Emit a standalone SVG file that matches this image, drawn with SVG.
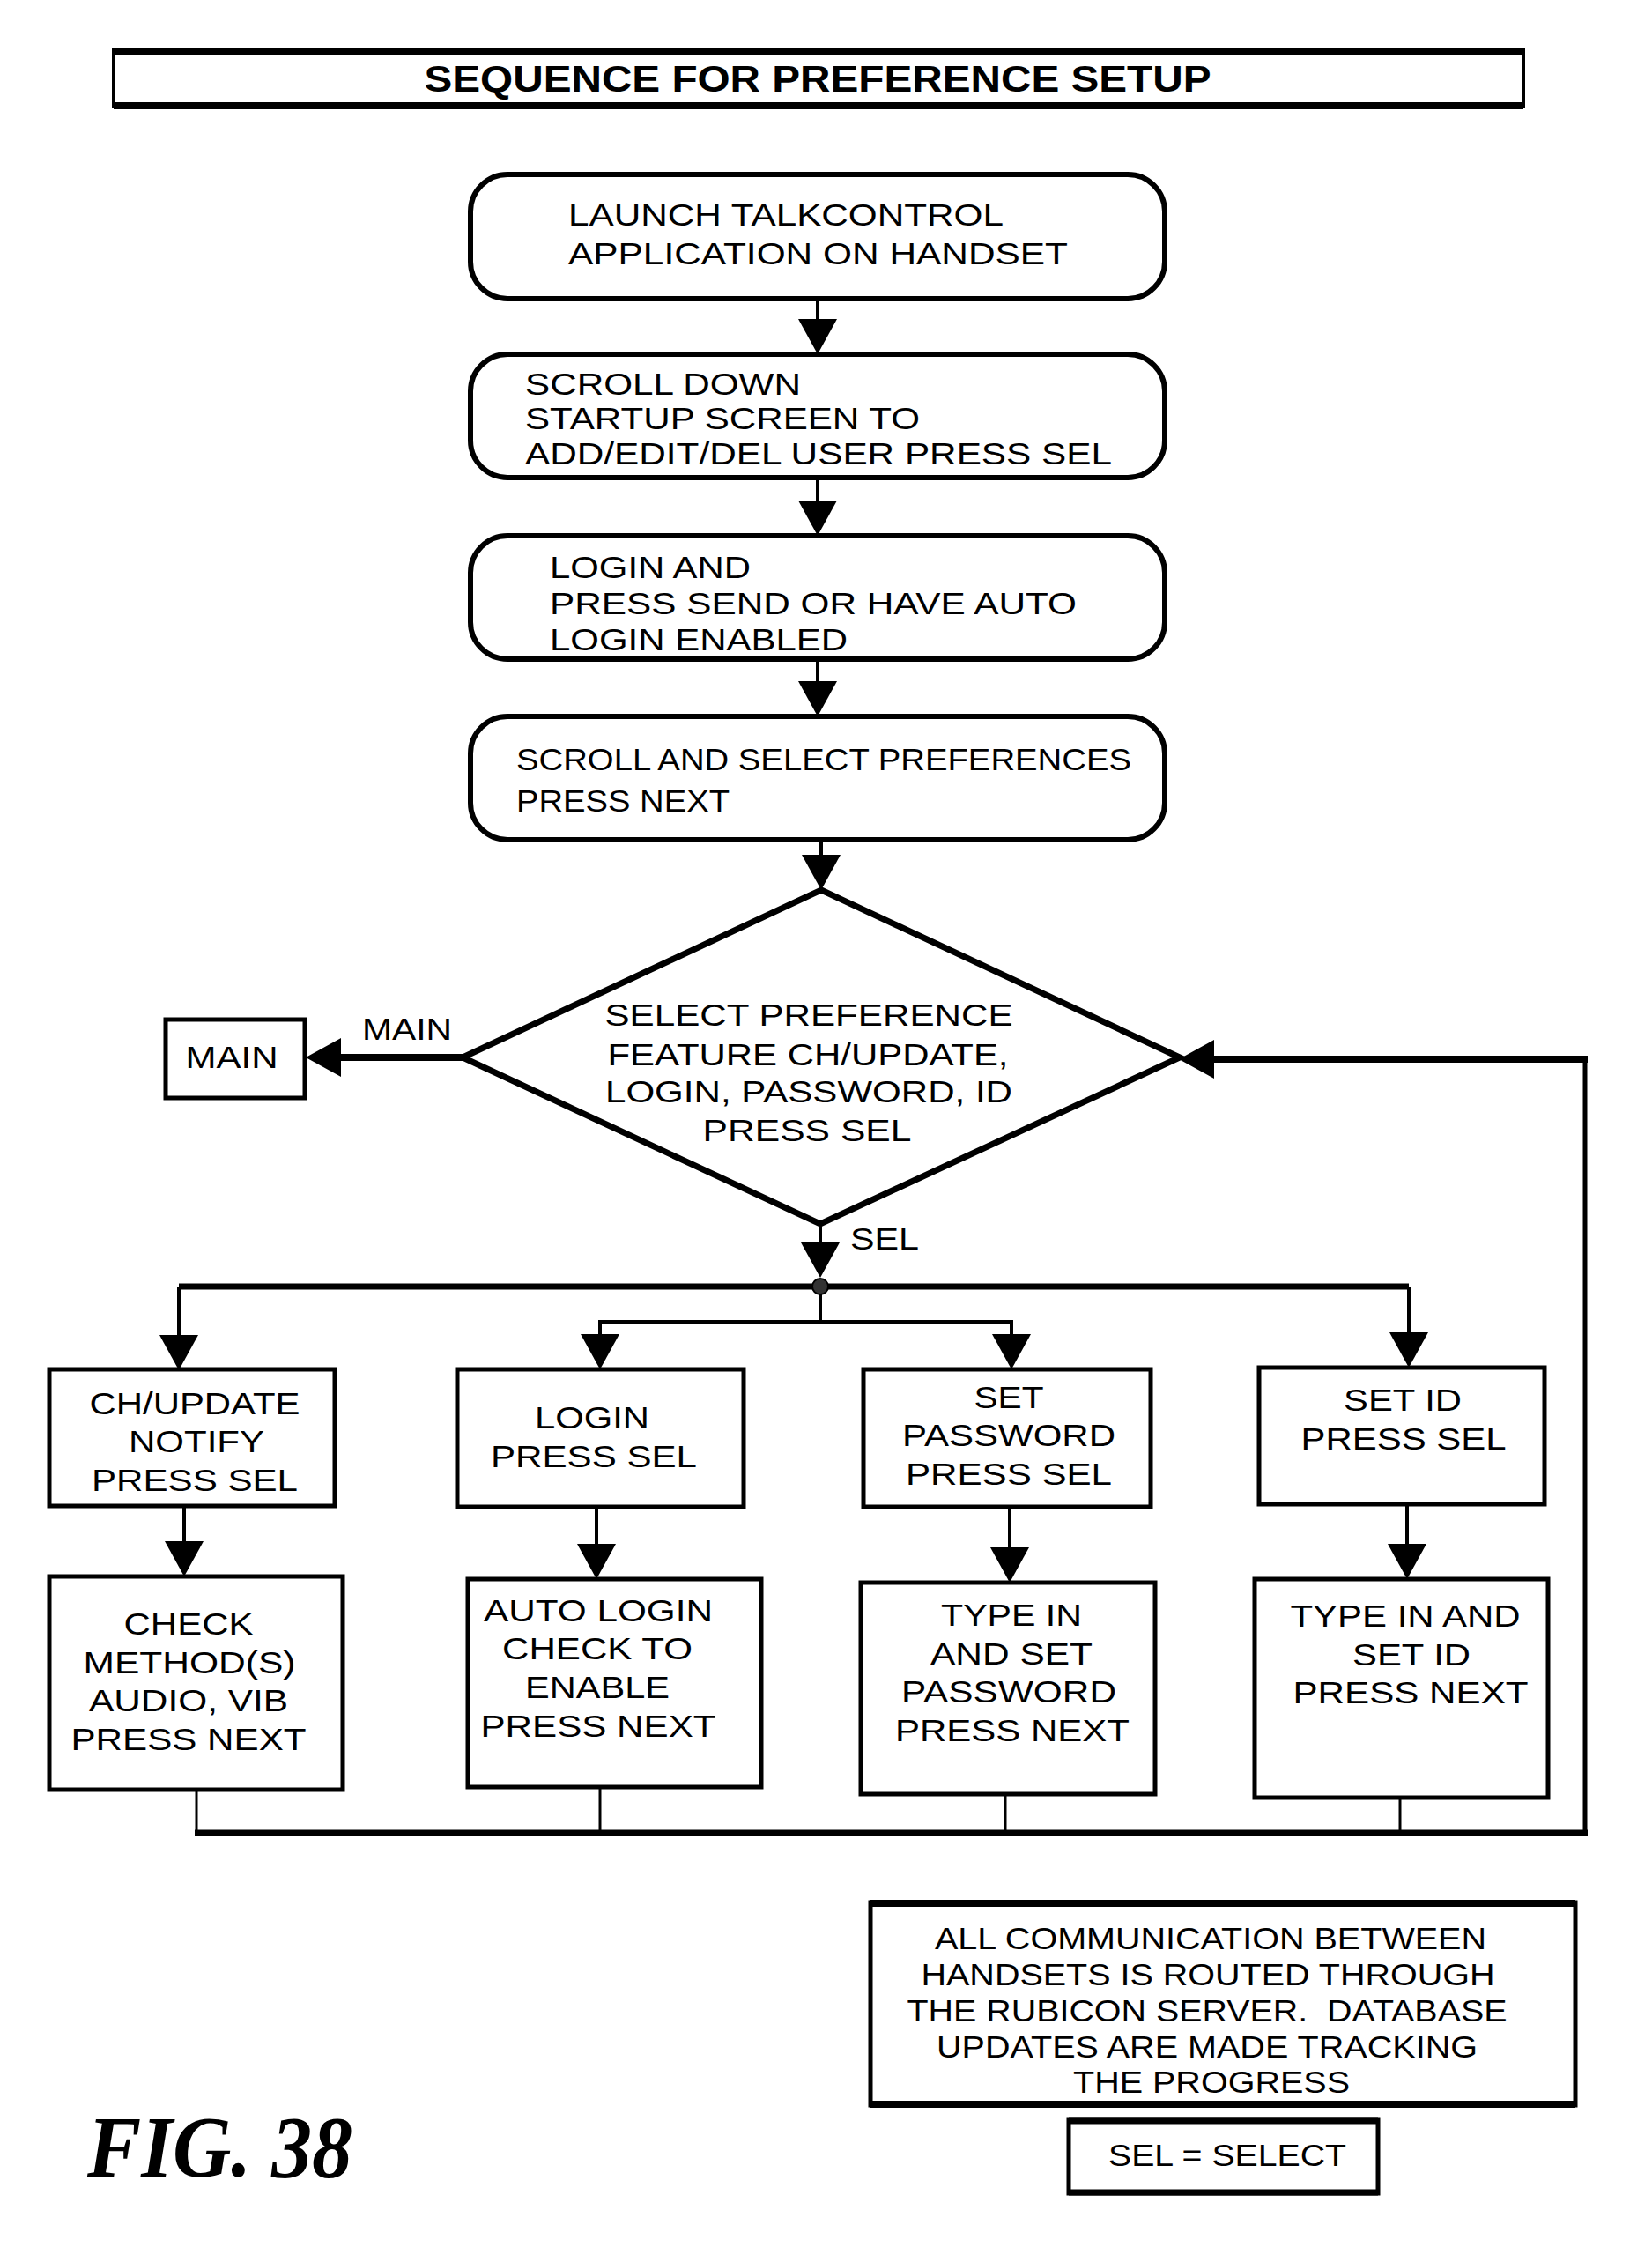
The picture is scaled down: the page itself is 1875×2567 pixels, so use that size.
<svg xmlns="http://www.w3.org/2000/svg" width="1875" height="2567" viewBox="0 0 1875 2567">
<style>
.t{font-family:"Liberation Sans",Arial,sans-serif;font-size:35px;fill:#000}
.m{text-anchor:middle}
.box{fill:#fff;stroke:#000;stroke-width:5}
.rbox{fill:#fff;stroke:#000;stroke-width:6}
.c{stroke:#000;stroke-width:4;fill:none}
.k{stroke:#000;stroke-width:8;fill:none}
</style>
<defs>
<marker id="ah" markerUnits="userSpaceOnUse" markerWidth="40" markerHeight="44" viewBox="0 0 40 44" refX="0" refY="22" orient="auto">
<path d="M0,0 L40,22 L0,44 z" fill="#000"/>
</marker>
</defs>
<rect width="1875" height="2567" fill="#fff"/>

<g id="title">
<rect x="129" y="57" width="1600" height="64" fill="#fff" stroke="#000" stroke-width="4"/>
<line x1="129" y1="58" x2="1729" y2="58" stroke="#000" stroke-width="8"/>
<line x1="129" y1="120" x2="1729" y2="120" stroke="#000" stroke-width="8"/>
<text x="928" y="104" class="m" style="font-family:'Liberation Sans',Arial,sans-serif;font-weight:bold;font-size:42px" textLength="893" lengthAdjust="spacingAndGlyphs">SEQUENCE FOR PREFERENCE SETUP</text>
</g>

<g id="connectors">
<line class="c" x1="928" y1="339" x2="928" y2="362" marker-end="url(#ah)"/>
<line class="c" x1="928" y1="542" x2="928" y2="568" marker-end="url(#ah)"/>
<line class="c" x1="928" y1="748" x2="928" y2="773" marker-end="url(#ah)"/>
<line class="c" x1="932" y1="953" x2="932" y2="970" marker-end="url(#ah)"/>
<line class="k" x1="525" y1="1200" x2="387" y2="1200" marker-end="url(#ah)"/>
<line x1="1799" y1="2080" x2="1799" y2="1200" stroke="#000" stroke-width="5"/>
<line class="k" x1="1802" y1="1202" x2="1378" y2="1202" marker-end="url(#ah)"/>
<line class="c" x1="931" y1="1389" x2="931" y2="1410" marker-end="url(#ah)"/>
<line x1="203" y1="1460" x2="1599" y2="1460" stroke="#000" stroke-width="7"/>
<line class="c" x1="203" y1="1460" x2="203" y2="1515" marker-end="url(#ah)"/>
<line class="c" x1="1599" y1="1460" x2="1599" y2="1512" marker-end="url(#ah)"/>
<line class="c" x1="931" y1="1460" x2="931" y2="1500"/>
<line class="c" x1="679" y1="1500" x2="1150" y2="1500"/>
<line class="c" x1="681" y1="1500" x2="681" y2="1514" marker-end="url(#ah)"/>
<line class="c" x1="1148" y1="1500" x2="1148" y2="1514" marker-end="url(#ah)"/>
<circle cx="931" cy="1460" r="9" fill="#333" stroke="#000" stroke-width="2"/>
<line class="c" x1="209" y1="1709" x2="209" y2="1749" marker-end="url(#ah)"/>
<line class="c" x1="677" y1="1710" x2="677" y2="1752" marker-end="url(#ah)"/>
<line class="c" x1="1146" y1="1710" x2="1146" y2="1756" marker-end="url(#ah)"/>
<line class="c" x1="1597" y1="1707" x2="1597" y2="1752" marker-end="url(#ah)"/>
<line x1="223" y1="2031" x2="223" y2="2080" stroke="#000" stroke-width="3"/>
<line x1="681" y1="2028" x2="681" y2="2080" stroke="#000" stroke-width="3"/>
<line x1="1141" y1="2036" x2="1141" y2="2080" stroke="#000" stroke-width="3"/>
<line x1="1589" y1="2040" x2="1589" y2="2080" stroke="#000" stroke-width="3"/>
<line x1="221" y1="2080" x2="1802" y2="2080" stroke="#000" stroke-width="7"/>
<text x="411" y="1180" class="t" textLength="102" lengthAdjust="spacingAndGlyphs">MAIN</text>
<text x="965" y="1418" class="t" textLength="78" lengthAdjust="spacingAndGlyphs">SEL</text>
</g>

<g id="launch">
<rect class="rbox" x="534" y="198" width="788" height="141" rx="42" ry="42"/>
<text x="645" y="256" class="t" textLength="494" lengthAdjust="spacingAndGlyphs">LAUNCH TALKCONTROL</text>
<text x="645" y="300" class="t" textLength="567" lengthAdjust="spacingAndGlyphs">APPLICATION ON HANDSET</text>
</g>

<g id="scroll-down">
<rect class="rbox" x="534" y="402" width="788" height="140" rx="42" ry="42"/>
<text x="596" y="448" class="t" textLength="313" lengthAdjust="spacingAndGlyphs">SCROLL DOWN</text>
<text x="596" y="487" class="t" textLength="448" lengthAdjust="spacingAndGlyphs">STARTUP SCREEN TO</text>
<text x="596" y="527" class="t" textLength="666" lengthAdjust="spacingAndGlyphs">ADD/EDIT/DEL USER PRESS SEL</text>
</g>

<g id="login">
<rect class="rbox" x="534" y="608" width="788" height="140" rx="42" ry="42"/>
<text x="624" y="656" class="t" textLength="228" lengthAdjust="spacingAndGlyphs">LOGIN AND</text>
<text x="624" y="697" class="t" textLength="598" lengthAdjust="spacingAndGlyphs">PRESS SEND OR HAVE AUTO</text>
<text x="624" y="738" class="t" textLength="338" lengthAdjust="spacingAndGlyphs">LOGIN ENABLED</text>
</g>

<g id="select-preferences">
<rect class="rbox" x="534" y="813" width="788" height="140" rx="42" ry="42"/>
<text x="586" y="874" class="t" textLength="698" lengthAdjust="spacingAndGlyphs">SCROLL AND SELECT PREFERENCES</text>
<text x="586" y="921" class="t" textLength="242" lengthAdjust="spacingAndGlyphs">PRESS NEXT</text>
</g>

<g id="decision">
<polygon points="932,1010 1339,1200 931,1389 525,1200" fill="#fff" stroke="#000" stroke-width="7" stroke-linejoin="miter"/>
<text x="918" y="1164" class="t m" textLength="463" lengthAdjust="spacingAndGlyphs">SELECT PREFERENCE</text>
<text x="917" y="1209" class="t m" textLength="455" lengthAdjust="spacingAndGlyphs">FEATURE CH/UPDATE,</text>
<text x="918" y="1251" class="t m" textLength="462" lengthAdjust="spacingAndGlyphs">LOGIN, PASSWORD, ID</text>
<text x="916" y="1295" class="t m" textLength="237" lengthAdjust="spacingAndGlyphs">PRESS SEL</text>
</g>

<g id="main">
<rect class="box" x="188" y="1157" width="158" height="89"/>
<text x="263" y="1212" class="t m" textLength="105" lengthAdjust="spacingAndGlyphs">MAIN</text>
</g>

<g id="ch-update">
<rect class="box" x="56" y="1554" width="324" height="155"/>
<text x="221" y="1605" class="t m" textLength="239" lengthAdjust="spacingAndGlyphs">CH/UPDATE</text>
<text x="223" y="1648" class="t m" textLength="154" lengthAdjust="spacingAndGlyphs">NOTIFY</text>
<text x="221" y="1692" class="t m" textLength="234" lengthAdjust="spacingAndGlyphs">PRESS SEL</text>
</g>

<g id="login-sel">
<rect class="box" x="519" y="1554" width="325" height="156"/>
<text x="672" y="1621" class="t m" textLength="130" lengthAdjust="spacingAndGlyphs">LOGIN</text>
<text x="674" y="1665" class="t m" textLength="234" lengthAdjust="spacingAndGlyphs">PRESS SEL</text>
</g>

<g id="set-password">
<rect class="box" x="980" y="1554" width="326" height="156"/>
<text x="1145" y="1598" class="t m" textLength="79" lengthAdjust="spacingAndGlyphs">SET</text>
<text x="1145" y="1641" class="t m" textLength="242" lengthAdjust="spacingAndGlyphs">PASSWORD</text>
<text x="1145" y="1685" class="t m" textLength="234" lengthAdjust="spacingAndGlyphs">PRESS SEL</text>
</g>

<g id="set-id">
<rect class="box" x="1429" y="1552" width="324" height="155"/>
<text x="1592" y="1601" class="t m" textLength="134" lengthAdjust="spacingAndGlyphs">SET ID</text>
<text x="1593" y="1645" class="t m" textLength="233" lengthAdjust="spacingAndGlyphs">PRESS SEL</text>
</g>

<g id="check-methods">
<rect class="box" x="56" y="1789" width="333" height="242"/>
<text x="214" y="1855" class="t m" textLength="147" lengthAdjust="spacingAndGlyphs">CHECK</text>
<text x="215" y="1899" class="t m" textLength="241" lengthAdjust="spacingAndGlyphs">METHOD(S)</text>
<text x="214" y="1942" class="t m" textLength="226" lengthAdjust="spacingAndGlyphs">AUDIO, VIB</text>
<text x="214" y="1986" class="t m" textLength="267" lengthAdjust="spacingAndGlyphs">PRESS NEXT</text>
</g>

<g id="auto-login">
<rect class="box" x="531" y="1792" width="333" height="236"/>
<text x="679" y="1840" class="t m" textLength="260" lengthAdjust="spacingAndGlyphs">AUTO LOGIN</text>
<text x="678" y="1883" class="t m" textLength="216" lengthAdjust="spacingAndGlyphs">CHECK TO</text>
<text x="678" y="1927" class="t m" textLength="164" lengthAdjust="spacingAndGlyphs">ENABLE</text>
<text x="679" y="1971" class="t m" textLength="267" lengthAdjust="spacingAndGlyphs">PRESS NEXT</text>
</g>

<g id="type-password">
<rect class="box" x="977" y="1796" width="334" height="240"/>
<text x="1148" y="1845" class="t m" textLength="160" lengthAdjust="spacingAndGlyphs">TYPE IN</text>
<text x="1148" y="1889" class="t m" textLength="184" lengthAdjust="spacingAndGlyphs">AND SET</text>
<text x="1145" y="1932" class="t m" textLength="244" lengthAdjust="spacingAndGlyphs">PASSWORD</text>
<text x="1149" y="1976" class="t m" textLength="266" lengthAdjust="spacingAndGlyphs">PRESS NEXT</text>
</g>

<g id="type-id">
<rect class="box" x="1424" y="1792" width="333" height="248"/>
<text x="1595" y="1846" class="t m" textLength="261" lengthAdjust="spacingAndGlyphs">TYPE IN AND</text>
<text x="1602" y="1890" class="t m" textLength="134" lengthAdjust="spacingAndGlyphs">SET ID</text>
<text x="1601" y="1933" class="t m" textLength="267" lengthAdjust="spacingAndGlyphs">PRESS NEXT</text>
</g>

<g id="note">
<rect class="box" x="988" y="2159" width="800" height="230"/>
<line x1="988" y1="2160" x2="1788" y2="2160" stroke="#000" stroke-width="8"/>
<line x1="988" y1="2388" x2="1788" y2="2388" stroke="#000" stroke-width="8"/>
<text x="1374" y="2212" class="t m" textLength="626" lengthAdjust="spacingAndGlyphs">ALL COMMUNICATION BETWEEN</text>
<text x="1371" y="2253" class="t m" textLength="651" lengthAdjust="spacingAndGlyphs">HANDSETS IS ROUTED THROUGH</text>
<text x="1370" y="2294" class="t m" textLength="681" lengthAdjust="spacingAndGlyphs" xml:space="preserve">THE RUBICON SERVER.  DATABASE</text>
<text x="1370" y="2335" class="t m" textLength="614" lengthAdjust="spacingAndGlyphs">UPDATES ARE MADE TRACKING</text>
<text x="1375" y="2375" class="t m" textLength="314" lengthAdjust="spacingAndGlyphs">THE PROGRESS</text>
</g>

<g id="legend">
<rect class="box" x="1213" y="2406" width="351" height="83"/>
<line x1="1213" y1="2407" x2="1564" y2="2407" stroke="#000" stroke-width="7"/>
<line x1="1213" y1="2488" x2="1564" y2="2488" stroke="#000" stroke-width="7"/>
<text x="1393" y="2458" class="t m" textLength="270" lengthAdjust="spacingAndGlyphs">SEL = SELECT</text>
</g>

<g id="figure-label">
<text x="99" y="2470" style="font-family:'Liberation Serif','Times New Roman',serif;font-weight:bold;font-style:italic;font-size:100px" textLength="301" lengthAdjust="spacingAndGlyphs">FIG. 38</text>
</g>
</svg>
